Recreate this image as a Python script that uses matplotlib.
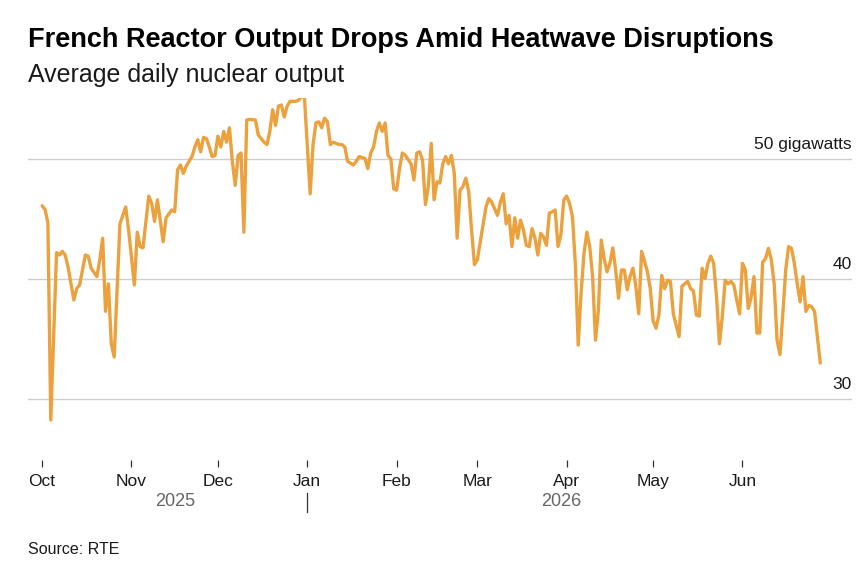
import matplotlib
matplotlib.use("Agg")
import matplotlib.pyplot as plt
import matplotlib.transforms as mtransforms
import matplotlib.dates as mdates
from matplotlib.lines import Line2D
import pandas as pd

# ---- data ----
start_date = "2025-10-01"
day_offsets = [0, 1, 2, 3, 5, 6, 7, 8, 9, 11, 12, 13, 15, 16, 17, 19, 20, 21, 22, 23,
               24, 25, 26, 27, 29, 30, 32, 33, 34, 35, 37, 38, 39, 40, 42, 43, 45, 46, 47, 48,
               49, 50, 52, 53, 54, 55, 56, 57, 58, 59, 60, 61, 62, 63, 64, 65, 66, 67, 68, 69,
               70, 71, 72, 74, 75, 77, 78, 79, 80, 81, 82, 83, 84, 85, 86, 88, 89, 90, 91, 93,
               94, 95, 96, 97, 98, 99, 100, 101, 103, 104, 105, 106, 108, 109, 110, 112, 113, 114, 115, 116,
               117, 118, 119, 120, 121, 122, 123, 124, 125, 126, 128, 129, 130, 131, 132, 133, 134, 135, 136, 137,
               138, 139, 140, 141, 142, 143, 144, 145, 146, 147, 148, 149, 150, 151, 153, 154, 155, 156, 158, 159,
               160, 161, 162, 163, 164, 165, 166, 167, 168, 169, 170, 171, 172, 173, 174, 175, 176, 177, 178, 179,
               180, 181, 182, 183, 184, 185, 186, 187, 188, 189, 190, 191, 192, 193, 194, 195, 196, 197, 198, 199,
               200, 201, 202, 203, 204, 205, 206, 207, 208, 209, 210, 211, 212, 213, 214, 215, 216, 217, 218, 219,
               221, 222, 224, 225, 226, 227, 228, 229, 230, 231, 232, 233, 234, 235, 236, 237, 238, 239, 240, 241,
               242, 243, 244, 245, 246, 247, 248, 249, 250, 251, 252, 253, 254, 255, 256, 257, 258, 259, 260, 261,
               262, 263, 264, 265, 266, 267, 268, 270]
output_gw = [46.1, 45.8, 44.7, 28.25, 42.2, 42.0, 42.3, 42.0, 41.0, 38.25, 39.2, 39.5, 42.0, 41.9, 40.9, 40.2, 41.6, 43.4, 37.3, 39.6,
             34.6, 33.5, 39.1, 44.6, 46.0, 44.1, 39.5, 43.9, 42.7, 42.6, 46.9, 46.3, 44.8, 46.6, 43.1, 45.1, 45.75, 45.6, 49.1, 49.5,
             48.8, 49.4, 50.2, 51.0, 51.6, 50.6, 51.8, 51.7, 51.0, 50.2, 50.3, 51.9, 51.0, 52.3, 51.4, 52.6, 49.8, 47.8, 50.3, 50.5,
             43.9, 53.25, 53.3, 53.25, 52.0, 51.4, 51.2, 52.3, 54.1, 52.8, 54.4, 54.5, 53.5, 54.4, 54.8, 54.8, 54.9, 55.2, 55.2, 47.1,
             51.2, 53.0, 53.1, 52.6, 53.4, 53.1, 51.2, 51.4, 51.2, 51.2, 51.0, 49.8, 49.5, 49.8, 50.2, 50.05, 49.2, 50.5, 51.0, 52.3,
             53.0, 52.3, 53.0, 50.3, 50.0, 47.5, 47.4, 49.2, 50.5, 50.3, 49.6, 48.25, 50.5, 50.6, 49.9, 46.2, 47.7, 51.3, 46.6, 48.1,
             48.0, 49.6, 50.2, 49.6, 50.3, 48.8, 43.4, 47.4, 47.7, 48.4, 47.3, 44.1, 41.2, 41.6, 44.5, 46.0, 46.7, 46.4, 45.3, 46.4,
             47.1, 44.6, 45.3, 42.7, 45.1, 43.4, 44.9, 44.1, 42.8, 42.7, 44.2, 43.4, 42.0, 43.8, 43.5, 42.8, 45.5, 45.6, 45.75, 42.7,
             43.7, 46.6, 46.9, 46.3, 45.2, 41.3, 34.5, 38.8, 42.1, 43.9, 42.7, 40.2, 34.9, 37.4, 43.25, 41.7, 40.6, 41.3, 42.6, 40.75,
             38.4, 40.75, 40.75, 39.1, 40.2, 40.9, 39.4, 37.1, 42.3, 41.5, 40.6, 39.2, 36.5, 35.9, 37.0, 40.3, 39.2, 39.9, 39.8, 37.1,
             35.2, 39.4, 39.8, 39.2, 39.0, 37.0, 36.9, 40.9, 40.05, 41.3, 41.9, 41.3, 38.5, 34.6, 36.9, 39.9, 39.6, 39.8, 39.5, 38.25,
             37.1, 41.3, 40.75, 37.55, 38.5, 40.2, 35.5, 35.5, 41.4, 41.7, 42.55, 41.6, 39.6, 34.9, 33.7, 37.1, 40.75, 42.7, 42.55, 41.3,
             39.6, 38.1, 40.2, 37.3, 37.8, 37.7, 37.3, 33.0]
month_ticks = ["2025-10-01", "2025-11-01", "2025-12-01", "2026-01-01", "2026-02-01",
               "2026-03-01", "2026-04-01", "2026-05-01", "2026-06-01"]
month_labels = ["Oct", "Nov", "Dec", "Jan", "Feb", "Mar", "Apr", "May", "Jun"]
y_ticks = [30, 40, 50]
y_labels = ["30", "40", "50 gigawatts"]
year_labels = ["2025", "2026"]
year_label_dates = ["2025-11-16", "2026-03-30"]

title = "French Reactor Output Drops Amid Heatwave Disruptions"
subtitle = "Average daily nuclear output"
source = "Source: RTE"

# ---- figure ----
plt.rcParams["font.family"] = ["Liberation Sans", "DejaVu Sans"]
W, H = 866, 586
fig = plt.figure(figsize=(W / 100, H / 100), dpi=100)
fig.patch.set_facecolor("white")

def fx(px):
    return px / W

def fy(py):
    return 1 - py / H

def dnum(s):
    return mdates.date2num(pd.Timestamp(s).to_pydatetime())

ax = fig.add_axes([fx(28), fy(460), fx(852) - fx(28), fy(98) - fy(460)])
ax.set_facecolor("white")

t0 = dnum(start_date)
xs = [t0 + d for d in day_offsets]
ax.plot(xs, output_gw, color="#EBA23E", lw=2.4, solid_joinstyle="round",
        solid_capstyle="round", zorder=3)

ax.set_xlim(t0 - 4.9, t0 + 281)
ax.set_ylim(24.92, 55.08)

for v, lab in zip(y_ticks, y_labels):
    ax.axhline(v, color="#cfcfcf", lw=1.0, zorder=1)
    ax.text(1.0, v + 0.6, lab, transform=ax.get_yaxis_transform(), ha="right",
            va="bottom", fontsize=12.5, color="#1a1a1a")

ax.set_yticks([])
for s in ax.spines.values():
    s.set_visible(False)

ax.set_xticks([dnum(m) for m in month_ticks])
ax.set_xticklabels(month_labels, fontsize=12.5, color="#1a1a1a")
ax.tick_params(axis="x", direction="out", length=5, width=0.9, color="#333333", pad=5)

trans = mtransforms.blended_transform_factory(ax.transData, fig.transFigure)
for lab, d in zip(year_labels, year_label_dates):
    ax.text(dnum(d), fy(501), lab, transform=trans, ha="center", va="center",
            fontsize=13, color="#666666")
jan = dnum("2026-01-01")
fig.add_artist(Line2D([jan, jan], [fy(493), fy(512)], transform=trans,
                      color="#333333", lw=0.9))

fig.text(fx(28), fy(40), title, fontsize=19.5, fontweight="bold", color="#000000",
         ha="left", va="center")
fig.text(fx(28), fy(75), subtitle, fontsize=18, color="#1a1a1a", ha="left", va="center")
fig.text(fx(28), fy(550), source, fontsize=11.5, color="#1a1a1a", ha="left", va="center")

fig.savefig("out.png", dpi=100, facecolor="white")
